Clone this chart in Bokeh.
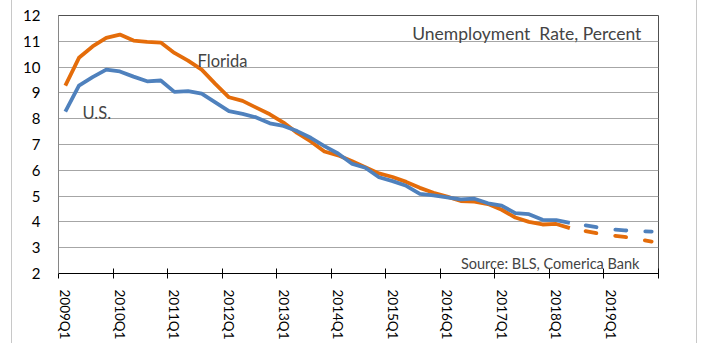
import math
from bokeh.plotting import figure
from bokeh.models import Range1d, FixedTicker, LinearAxis, Label
from bokeh.embed import file_html
from bokeh.resources import INLINE

# ---------------- data ----------------
quarters = [
    "2009Q1", "2009Q2", "2009Q3", "2009Q4", "2010Q1", "2010Q2", "2010Q3", "2010Q4",
    "2011Q1", "2011Q2", "2011Q3", "2011Q4", "2012Q1", "2012Q2", "2012Q3", "2012Q4",
    "2013Q1", "2013Q2", "2013Q3", "2013Q4", "2014Q1", "2014Q2", "2014Q3", "2014Q4",
    "2015Q1", "2015Q2", "2015Q3", "2015Q4", "2016Q1", "2016Q2", "2016Q3", "2016Q4",
    "2017Q1", "2017Q2", "2017Q3", "2017Q4", "2018Q1", "2018Q2", "2018Q3", "2018Q4",
    "2019Q1", "2019Q2", "2019Q3", "2019Q4",
]
tick_labels = ["2009Q1", "2010Q1", "2011Q1", "2012Q1", "2013Q1", "2014Q1",
               "2015Q1", "2016Q1", "2017Q1", "2018Q1", "2019Q1"]

us_actual = [8.27, 9.28, 9.61, 9.90, 9.83, 9.63, 9.45, 9.48,
             9.04, 9.07, 8.97, 8.63, 8.29, 8.19, 8.05, 7.82,
             7.72, 7.52, 7.26, 6.94, 6.65, 6.26, 6.10, 5.73,
             5.58, 5.40, 5.09, 5.03, 4.95, 4.87, 4.90, 4.72,
             4.63, 4.34, 4.30, 4.08, 4.07, 3.96]
fl_actual = [9.28, 10.36, 10.80, 11.13, 11.26, 11.03, 10.98, 10.95,
             10.55, 10.25, 9.90, 9.35, 8.83, 8.69, 8.43, 8.17,
             7.85, 7.45, 7.12, 6.73, 6.58, 6.36, 6.12, 5.88,
             5.74, 5.55, 5.32, 5.13, 4.98, 4.81, 4.79, 4.69,
             4.47, 4.17, 4.00, 3.90, 3.92, 3.76]
forecast_start = "2018Q2"
us_forecast = [3.96, 3.88, 3.79, 3.72, 3.67, 3.65, 3.62]
fl_forecast = [3.76, 3.66, 3.56, 3.48, 3.42, 3.33, 3.24]

# ---------------- styles ----------------
FONT = "Lato"
ORANGE = "#E46C0A"
BLUE = "#4F81BD"

x_act = list(range(len(us_actual)))
s = quarters.index(forecast_start)
x_fc = list(range(s, s + len(us_forecast)))

p = figure(frame_width=600, frame_height=258, output_backend="svg", toolbar_location=None,
           x_range=Range1d(-0.5, len(quarters) - 0.5), y_range=Range1d(2, 12),
           min_border_left=46, min_border_right=38, min_border_top=15,
           min_border_bottom=70, x_axis_location=None)
p.styles = {"margin-left": "11px", "border-left": "1px solid #c8c8c8",
            "border-right": "1px solid #c8c8c8"}
p.background_fill_color = "white"
p.border_fill_color = "white"
p.outline_line_color = "#505050"
p.outline_line_width = 1

# y axis
yt = FixedTicker(ticks=list(range(2, 13)))
p.yaxis.ticker = yt
p.yaxis.major_tick_out = 0
p.yaxis.major_tick_in = 0
p.yaxis.minor_tick_line_color = None
p.yaxis.axis_line_color = "#868686"
p.yaxis.major_label_standoff = 18
p.yaxis.major_label_text_font = FONT
p.yaxis.major_label_text_font_size = "15px"
p.yaxis.major_label_text_color = "black"
p.ygrid.ticker = yt
p.ygrid.grid_line_color = "#a6a6a6"
p.xgrid.visible = False

# x axis: labels centred on first quarter of each year, tick marks at year boundaries
n_years = len(tick_labels) + 1
lab_pos = [quarters.index(t) for t in tick_labels]
xt = FixedTicker(ticks=lab_pos, minor_ticks=[4 * k - 0.5 for k in range(n_years)])
ax = LinearAxis(ticker=xt,
                major_label_overrides={pos: t for pos, t in zip(lab_pos, tick_labels)},
                axis_line_color="black", axis_line_width=1,
                major_tick_line_color=None, major_tick_in=0, major_tick_out=0,
                minor_tick_line_color="black", minor_tick_in=5, minor_tick_out=5,
                major_label_orientation="vertical", major_label_standoff=11,
                major_label_text_font=FONT, major_label_text_font_size="13.5px",
                major_label_text_color="black")
p.add_layout(ax, "below")

# lines
p.line(x_act, fl_actual, line_color=ORANGE, line_width=3.8, line_join="round")
p.line(x_act, us_actual, line_color=BLUE, line_width=3.8, line_join="round")
p.line(x_fc, fl_forecast, line_color=ORANGE, line_width=3.8, line_dash="11 19",
       line_dash_offset=14, line_cap="round")
p.line(x_fc, us_forecast, line_color=BLUE, line_width=3.8, line_dash="11 19",
       line_dash_offset=14, line_cap="round")

# texts
p.add_layout(Label(x=9.7, y=10.25, text="Florida", text_font=FONT,
                   text_font_size="16.5px", text_baseline="alphabetic"))
p.add_layout(Label(x=1.26, y=8.24, text="U.S.", text_font=FONT,
                   text_font_size="16.5px", text_baseline="alphabetic"))
p.add_layout(Label(x=42.24, y=11.30, text="Unemployment\u00a0 Rate, Percent", text_font=FONT,
                   text_font_size="17.5px", text_baseline="alphabetic", text_align="right"))
p.add_layout(Label(x=42.1, y=2.38, text="Source: BLS, Comerica Bank", text_font=FONT,
                   text_font_size="14.5px", text_baseline="alphabetic", text_align="right"))

open("out.html", "w").write(file_html(p, INLINE))
